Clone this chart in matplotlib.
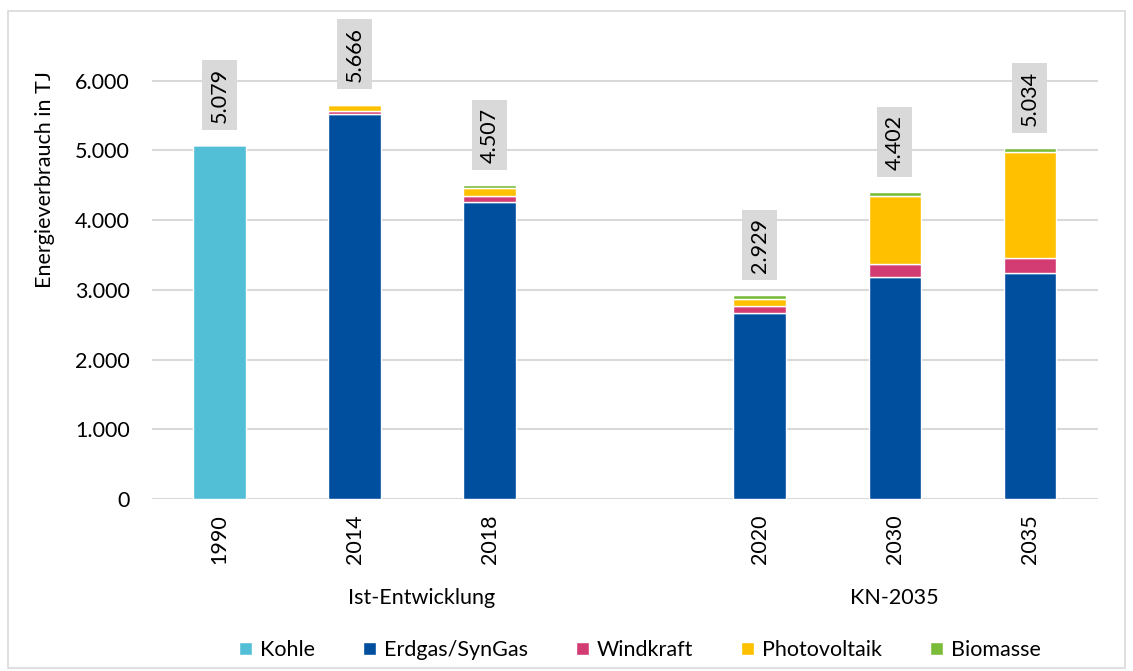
import matplotlib
matplotlib.use("Agg")
import matplotlib.pyplot as plt
from matplotlib.patches import Rectangle
from matplotlib.ticker import FuncFormatter

plt.rcParams["font.family"] = ["Lato", "DejaVu Sans"]

years = ["1990", "2014", "2018", "2020", "2030", "2035"]
positions = [0, 1, 2, 4, 5, 6]
totals = [5079, 5666, 4507, 2929, 4402, 5034]

kohle = [5079, 0, 0, 0, 0, 0]
erdgas = [0, 5520, 4265, 2670, 3186, 3244]
windkraft = [0, 50, 85, 100, 190, 215]
photovoltaik = [0, 80, 105, 100, 975, 1520]
biomasse = [0, 16, 52, 59, 51, 55]

series = [
    ("Kohle", kohle, "#53bfd7"),
    ("Erdgas/SynGas", erdgas, "#004f9e"),
    ("Windkraft", windkraft, "#d33b73"),
    ("Photovoltaik", photovoltaik, "#ffc000"),
    ("Biomasse", biomasse, "#7bbb3a"),
]
groups = [("Ist-Entwicklung", 1.5), ("KN-2035", 5.0)]

W, H = 1133, 671
fig = plt.figure(figsize=(W / 100, H / 100), dpi=100)
ax = fig.add_axes([152 / W, 1 - 499 / H, (1097.5 - 152) / W, (499 - 11) / H])

bottom = [0] * len(years)
handles = []
for name, vals, color in series:
    b = ax.bar(positions, vals, width=0.39, bottom=bottom, color=color,
               edgecolor="white", linewidth=1.0, label=name, zorder=3)
    handles.append(b)
    bottom = [x + y for x, y in zip(bottom, vals)]

for x, tot in zip(positions, totals):
    ax.annotate(f"{tot:,}".replace(",", "."), xy=(x, tot), xytext=(0, 16),
                textcoords="offset points", rotation=90, ha="center", va="bottom",
                fontsize=15.5, color="#000000",
                bbox=dict(boxstyle="square,pad=0.35", facecolor="#d9d9d9", edgecolor="none"))

ax.set_xlim(-0.5, 6.5)
ax.set_ylim(0, 7000)
ax.set_yticks(range(0, 7000, 1000))
ax.yaxis.set_major_formatter(FuncFormatter(lambda v, p: f"{int(v):,}".replace(",", ".")))
ax.set_xticks(positions)
ax.set_xticklabels(years, rotation=90)
ax.tick_params(axis="both", length=0, labelsize=15.5)
ax.tick_params(axis="y", pad=16)
ax.tick_params(axis="x", pad=11)
ax.grid(axis="y", color="#d9d9d9", linewidth=1.5, zorder=0)
for s in ax.spines.values():
    s.set_visible(False)

fig.text(45 / W, 1 - 180 / H, "Energieverbrauch in TJ", rotation=90,
         ha="center", va="center", fontsize=15.5)
for label, gx in groups:
    px = 152 + (gx + 0.5) * 135
    fig.text(px / W, 1 - 598 / H, label, ha="center", va="center", fontsize=15.5)

fig.legend(handles=handles, loc="center", bbox_to_anchor=(640 / W, 1 - 650 / H),
           ncol=5, frameon=False, fontsize=15.5, handlelength=0.6, handleheight=0.6,
           handletextpad=0.4, columnspacing=2.2)

fig.patches.append(Rectangle((8 / W, 1 - 668 / H), (1125 - 8) / W, (668 - 11) / H,
                             transform=fig.transFigure, fill=False,
                             edgecolor="#d9d9d9", linewidth=1.2))

fig.savefig("out.png", dpi=100)
